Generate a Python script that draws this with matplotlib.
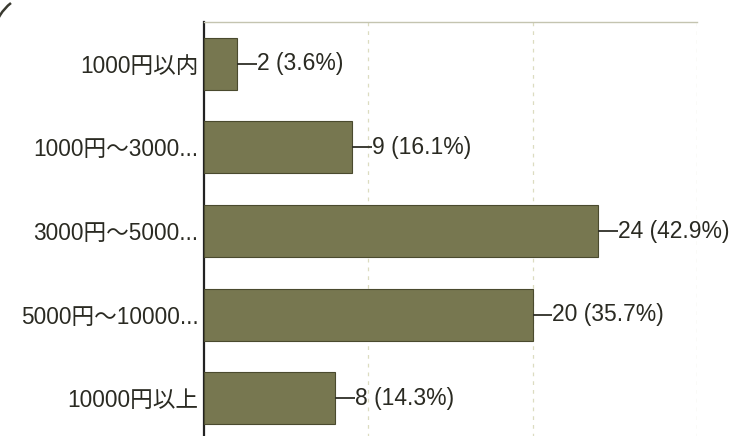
import matplotlib
matplotlib.use("Agg")
import matplotlib.pyplot as plt
from matplotlib.patches import Arc

plt.rcParams['font.family'] = ['Liberation Sans', 'Noto Sans CJK JP', 'DejaVu Sans']

categories = ["1000円以内", "1000円〜3000...", "3000円〜5000...", "5000円〜10000...", "10000円以上"]
counts = [2, 9, 24, 20, 8]
percents = [3.6, 16.1, 42.9, 35.7, 14.3]

fig = plt.figure(figsize=(7.34, 4.36), dpi=100)
ax = fig.add_axes([204/734, -4/436, (697-204)/734, (436-22+4)/436])

ypos = list(range(len(categories)))
bar_color = "#777750"
ax.barh(ypos, counts, height=0.62, color=bar_color, edgecolor="#4a4a2e", linewidth=0.8, zorder=3)

conn = 1.2
for y, c, p in zip(ypos, counts, percents):
    ax.plot([c, c + conn], [y, y], color="#2e2e26", lw=1.3, zorder=4, solid_capstyle="butt")
    ax.text(c + conn, y, f"{c} ({p:.1f}%)", va="center", ha="left",
            fontsize=16.5, color="#2a2a22", zorder=4)

ax.set_xlim(0, 30)
ax.set_ylim(4.5, -0.5)
ax.set_yticks(ypos)
ax.set_yticklabels(categories, fontsize=16.3, color="#2a2a22")
ax.tick_params(axis="y", length=0, pad=4)
ax.set_xticks([10, 20, 30])
ax.tick_params(axis="x", length=0, labelbottom=False)
ax.grid(axis="x", linestyle=(0, (3, 4)), color="#dcdcc0", lw=0.9, zorder=0)

for s in ["right", "bottom"]:
    ax.spines[s].set_visible(False)
ax.spines["left"].set_color("#222222")
ax.spines["left"].set_linewidth(1.6)
ax.spines["top"].set_color("#c4c4b0")
ax.spines["top"].set_linestyle((0, (2, 1)))
ax.spines["top"].set_linewidth(1.0)

# scan edge arc in top-left corner
fig.add_artist(Arc((40/734, 1 - 40/436), 94/734, 94/436, theta1=115, theta2=160,
                   transform=fig.transFigure, color="#3a3a30", lw=1.8))

fig.savefig("out.png", dpi=100, facecolor="white")
